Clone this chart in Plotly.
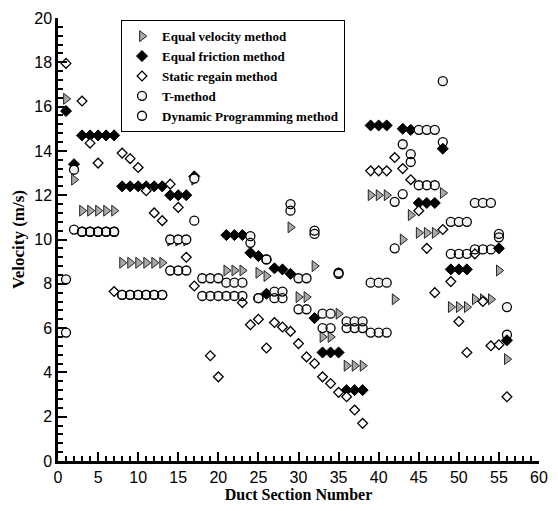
import plotly.graph_objects as go

sections = list(range(1, 57))

equal_velocity = [16.35, 12.7, 11.3, 11.3, 11.3, 11.3, 11.3, 8.95, 8.95, 8.95,
                  8.95, 8.95, 8.95, 9.95, 9.95, 9.95, 12.7, None, None, None,
                  8.6, 8.6, 8.6, None, 8.5, 8.35, None, None, 10.55, 7.4,
                  7.4, 8.8, 5.6, 5.6, 6.65, 4.3, 4.3, 4.3, 12.0, 12.0,
                  12.0, 7.3, 10.0, 11.1, 10.3, 10.3, 10.3, 12.1, 6.95, 6.95,
                  6.95, 7.3, 7.3, 7.3, 8.6, 4.6]

equal_friction = [15.8, 13.4, 14.7, 14.7, 14.7, 14.7, 14.7, 12.4, 12.4, 12.4,
                  12.4, 12.4, 12.4, 12.0, 12.0, 12.0, 12.85, None, None, None,
                  10.2, 10.2, 10.2, 9.4, 9.25, 7.55, 8.7, 8.65, 8.45, None,
                  None, 6.45, 4.9, 4.9, 4.9, 3.2, 3.2, 3.2, 15.15, 15.15,
                  15.15, None, 15.0, 14.95, 11.65, 11.65, 11.65, 14.1, 8.65, 8.65,
                  8.65, None, None, None, 9.6, 5.45]

static_regain = [17.95, None, 16.25, 14.35, 13.45, None, 7.65, 13.9, 13.65, 13.25,
                 12.2, 11.2, 10.85, 12.5, 11.45, 9.2, 7.9, None, 4.75, 3.8,
                 None, None, 7.15, 6.15, 6.4, 5.1, 6.25, 6.05, 5.85, 5.3,
                 4.7, 4.4, 3.8, 3.5, 3.1, 2.9, 2.3, 1.7, 13.1, 13.1,
                 13.1, 13.7, 13.2, 12.7, 11.3, 9.6, 7.6, 10.45, 8.1, 6.3,
                 4.9, 9.35, 7.2, 5.2, 5.25, 2.9]

t_method = [8.2, 13.15, 10.35, 10.35, 10.35, 10.35, 10.35, 7.5, 7.5, 7.5,
            7.5, 7.5, 7.5, 10.0, 10.0, 10.0, 12.75, 8.25, 8.25, 8.25,
            8.05, 8.05, 8.05, 10.15, 7.35, 9.1, 7.65, 7.65, 11.6, 8.25,
            8.25, 10.4, 6.65, 6.65, 8.5, 6.3, 6.3, 6.3, 8.05, 8.05,
            8.05, 11.7, 14.3, 13.85, 14.95, 14.95, 14.95, 17.15, 10.8, 10.8,
            10.8, 11.65, 11.65, 11.65, 10.25, 6.95]

dynamic_prog = [5.8, 10.45, 10.35, 10.35, 10.35, 10.35, 10.35, 7.5, 7.5, 7.5,
                7.5, 7.5, 7.5, 8.6, 8.6, 8.6, 10.85, 7.45, 7.45, 7.45,
                7.45, 7.45, 7.45, 9.85, 7.35, 9.1, 7.35, 7.35, 11.3, 6.85,
                6.85, 10.25, 6.0, 6.0, 8.45, 6.0, 6.0, 6.0, 5.8, 5.8,
                5.8, 9.6, 12.05, 13.5, 12.45, 12.45, 12.45, 14.4, 9.35, 9.35,
                9.35, 9.55, 9.55, 9.55, 10.1, 5.7]

x_ticks = [0, 5, 10, 15, 20, 25, 30, 35, 40, 45, 50, 55, 60]
y_ticks = [0, 2, 4, 6, 8, 10, 12, 14, 16, 18, 20]

fig = go.Figure()

fig.add_trace(go.Scatter(
    x=sections, y=equal_velocity, mode="markers", name="<b>Equal velocity method</b>",
    marker=dict(symbol="triangle-right", size=9.5, color="#a8a8a8",
                line=dict(color="#222222", width=1))))
fig.add_trace(go.Scatter(
    x=sections, y=equal_friction, mode="markers", name="<b>Equal friction method</b>",
    marker=dict(symbol="diamond", size=8.5, color="black",
                line=dict(color="black", width=1))))
fig.add_trace(go.Scatter(
    x=sections, y=static_regain, mode="markers", name="<b>Static regain method</b>",
    marker=dict(symbol="diamond", size=7.5, color="white",
                line=dict(color="black", width=1.3))))
fig.add_trace(go.Scatter(
    x=sections, y=t_method, mode="markers", name="<b>T-method</b>",
    marker=dict(symbol="circle", size=9, color="#f2f2f2",
                line=dict(color="black", width=1.3))))
fig.add_trace(go.Scatter(
    x=sections, y=dynamic_prog, mode="markers", name="<b>Dynamic Programming method</b>",
    marker=dict(symbol="circle-open", size=9, color="black",
                line=dict(color="black", width=1.3))))

axis_common = dict(
    showline=True, linecolor="black", linewidth=2.5, mirror=False,
    showgrid=False, zeroline=False, ticks="inside", tickcolor="black",
    tickwidth=2, ticklen=9,
    tickfont=dict(family="Liberation Sans, Arial", size=16, color="black"),
)

fig.update_xaxes(
    range=[0, 60], tickmode="array", tickvals=x_ticks,
    ticktext=[str(v) for v in x_ticks],
    minor=dict(dtick=1, ticks="inside", ticklen=5, tickwidth=1.5, tickcolor="black", showgrid=False),
    title=dict(text="<b>Duct Section Number</b>",
               font=dict(family="Liberation Serif, Times New Roman", size=16, color="black"),
               standoff=4),
    **axis_common)
fig.update_yaxes(
    range=[0, 20], tickmode="array", tickvals=y_ticks,
    ticktext=[str(v) for v in y_ticks],
    minor=dict(dtick=0.4, ticks="inside", ticklen=5, tickwidth=1.5, tickcolor="black", showgrid=False),
    title=dict(text="<b>Velocity (m/s)</b>",
               font=dict(family="Liberation Serif, Times New Roman", size=17, color="black"),
               standoff=6),
    **axis_common)

fig.update_layout(
    width=558, height=511,
    margin=dict(l=58, r=10, t=15, b=48),
    paper_bgcolor="white", plot_bgcolor="white",
    legend=dict(
        x=0.131, y=0.995, xanchor="left", yanchor="top",
        bgcolor="white", bordercolor="black", borderwidth=1,
        font=dict(family="Liberation Serif, Times New Roman", size=13, color="black"),
        itemsizing="trace",
    ),
    showlegend=True,
)

fig.write_html("out.html")
